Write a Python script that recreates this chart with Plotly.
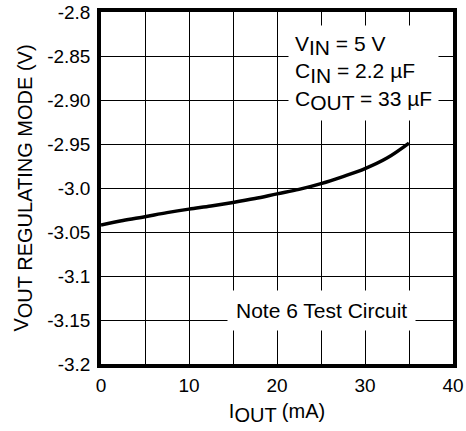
import plotly.graph_objects as go

# Data
iout_ma = [0, 2.5, 5, 7.5, 10, 12.5, 15, 17.5, 20, 22.5, 25, 27.5, 30, 32.5, 35]
vout_v = [-3.042, -3.037, -3.0326, -3.028, -3.024, -3.0205, -3.0165, -3.012,
          -3.0067, -3.0016, -2.995, -2.987, -2.978, -2.966, -2.949]

x_tickvals = [0, 10, 20, 30, 40]
x_ticktext = ["0", "10", "20", "30", "40"]
y_tickvals = [-3.2, -3.15, -3.1, -3.05, -3.0, -2.95, -2.9, -2.85, -2.8]
y_ticktext = ["-3.2", "-3.15", "-3.1", "-3.05", "-3.0", "-2.95", "-2.90", "-2.85", "-2.8"]

FONT = "Liberation Sans, Arial, sans-serif"
FS = 20
FA = 21


def sub(t, size=FS):
    return f"<sub><span style='font-size:{size}px'>{t}</span></sub>"


fig = go.Figure()
fig.add_trace(go.Scatter(
    x=iout_ma, y=vout_v, mode="lines",
    line=dict(color="black", width=3.5, shape="spline"),
    showlegend=False, hoverinfo="skip",
))

fig.update_layout(
    width=466, height=431,
    margin=dict(l=101, r=13, t=12, b=67),
    paper_bgcolor="white", plot_bgcolor="white",
    font=dict(family=FONT, size=19, color="black"),
    showlegend=False,
)

fig.update_xaxes(
    range=[0, 40], tickvals=x_tickvals, ticktext=x_ticktext,
    showgrid=True, gridcolor="black", gridwidth=1,
    minor=dict(dtick=5, tick0=0, showgrid=True, gridcolor="black", gridwidth=1, ticks=""),
    showline=True, linecolor="black", linewidth=3.5, mirror=True,
    ticks="", zeroline=False, automargin=False, ticklabelstandoff=1,
    title=dict(text="I" + sub("OUT") + " (mA)", font=dict(size=FS), standoff=10),
)
fig.update_yaxes(
    range=[-3.2, -2.8], tickvals=y_tickvals, ticktext=y_ticktext,
    showgrid=True, gridcolor="black", gridwidth=1,
    showline=True, linecolor="black", linewidth=3.5, mirror=True,
    ticks="", zeroline=False, automargin=False, ticklabelstandoff=3,
    title=dict(text="V" + sub("OUT REGULATING MODE (V)"), font=dict(size=FS), standoff=14),
)

fig.add_annotation(
    xref="paper", yref="paper", x=0.530, y=0.962, xanchor="left", yanchor="top",
    text="V" + sub("IN", FA) + " = 5 V<br>C" + sub("IN", FA) + " = 2.2 µF<br>C" + sub("OUT", FA) + " = 33 µF",
    align="left", showarrow=False, bgcolor="white", borderpad=6,
    font=dict(size=FA, family=FONT, color="black"),
)
fig.add_annotation(
    xref="paper", yref="paper", x=0.625, y=0.152, xanchor="center", yanchor="middle",
    text="Note 6 Test Circuit",
    showarrow=False, bgcolor="white", borderpad=8,
    font=dict(size=FA, family=FONT, color="black"),
)

fig.write_html("out.html", config={"displayModeBar": False},
               post_script="document.body.style.margin='0';")
